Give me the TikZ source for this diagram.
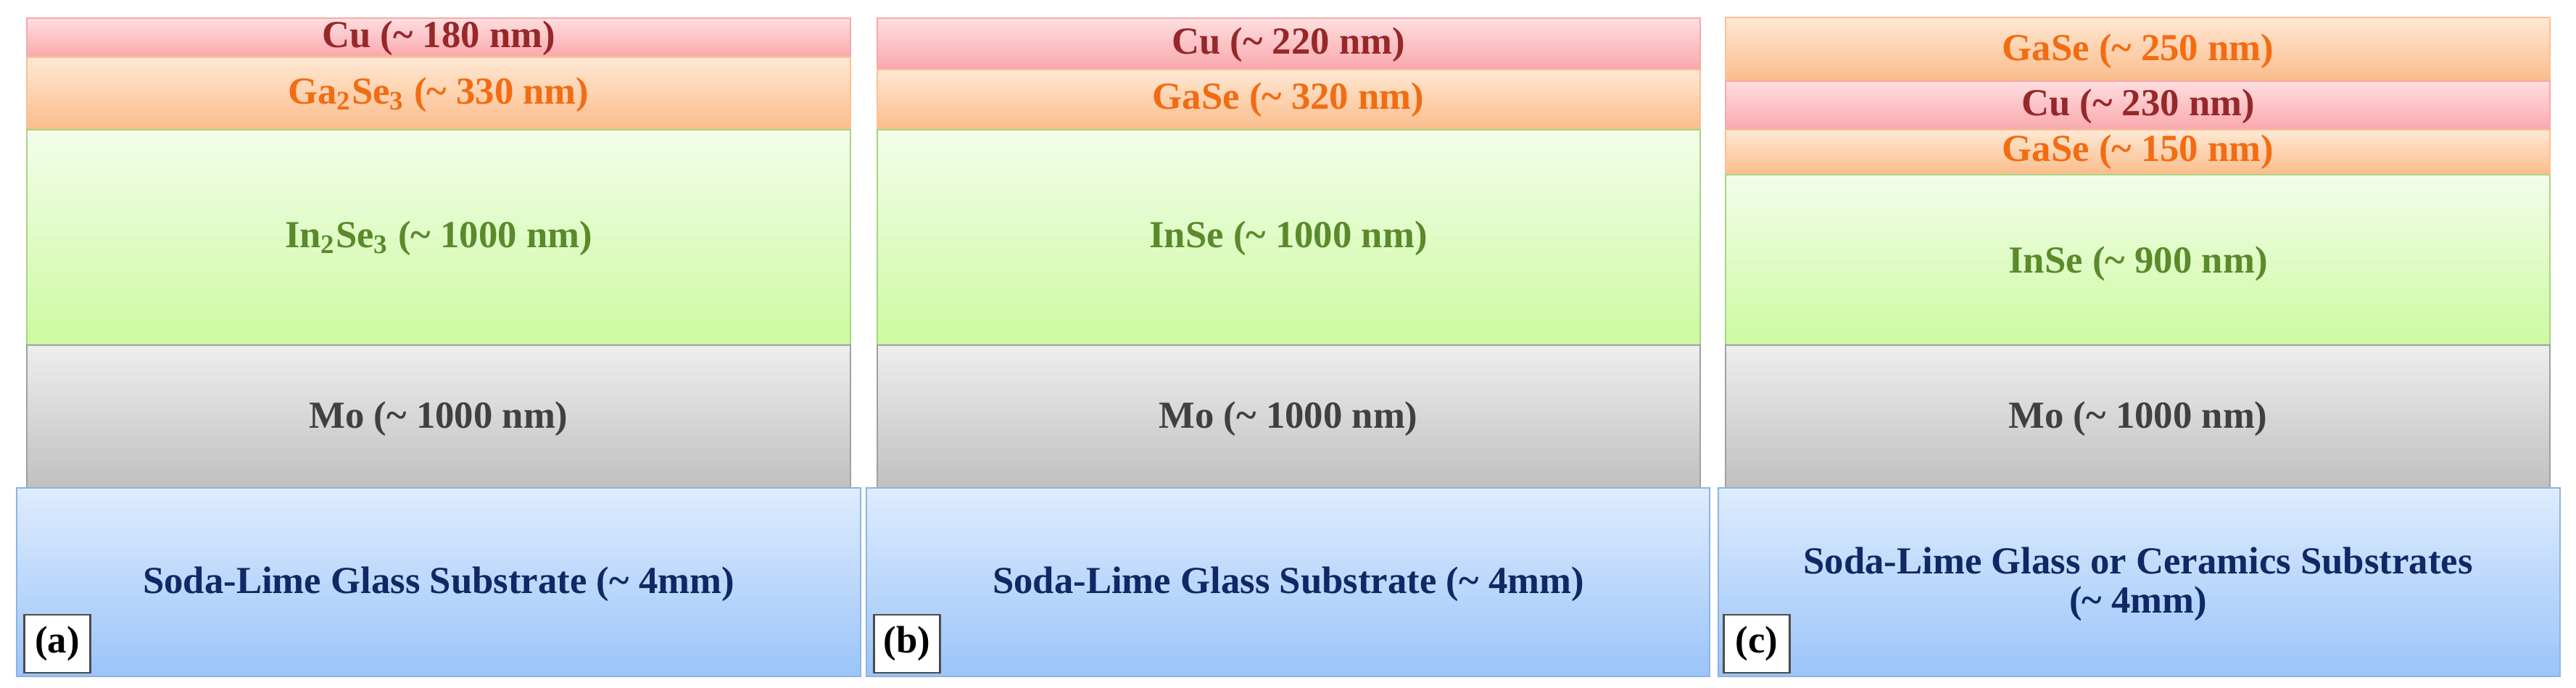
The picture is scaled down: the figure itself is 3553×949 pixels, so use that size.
\documentclass[tikz,border=0pt]{standalone}
\usepackage{fontspec}
\setmainfont{Liberation Serif}
\definecolor{cuT}{RGB}{255,222,224}
\definecolor{cuB}{RGB}{249,168,172}
\definecolor{cuD}{RGB}{243,170,174}
\definecolor{gaT}{RGB}{255,232,212}
\definecolor{gaB}{RGB}{251,188,138}
\definecolor{gaD}{RGB}{250,192,148}
\definecolor{inT}{RGB}{243,253,235}
\definecolor{inB}{RGB}{204,250,160}
\definecolor{inD}{RGB}{168,212,130}
\definecolor{moT}{RGB}{238,238,238}
\definecolor{moB}{RGB}{192,192,192}
\definecolor{moD}{RGB}{160,160,160}
\definecolor{suT}{RGB}{222,236,253}
\definecolor{suB}{RGB}{155,196,250}
\definecolor{suD}{RGB}{140,180,228}
\definecolor{cuText}{RGB}{150,40,42}
\definecolor{gaText}{RGB}{242,108,18}
\definecolor{inText}{RGB}{90,138,42}
\definecolor{moText}{RGB}{64,64,64}
\definecolor{suText}{RGB}{16,40,100}
\tikzset{
  cuL/.style={top color=cuT, bottom color=cuB, draw=cuD, line width=0.6pt},
  gaL/.style={top color=gaT, bottom color=gaB, draw=gaD, line width=0.6pt},
  inL/.style={top color=inT, bottom color=inB, draw=inD, line width=0.6pt},
  moL/.style={top color=moT, bottom color=moB, draw=moD, line width=0.6pt},
  suL/.style={top color=suT, bottom color=suB, draw=suD, line width=0.6pt},
  txt/.style={font=\fontsize{15}{15.2}\selectfont\bfseries, inner sep=0pt, align=center},
  cuX/.style={txt, text=cuText},
  gaX/.style={txt, text=gaText},
  inX/.style={txt, text=inText},
  moX/.style={txt, text=moText},
  suX/.style={txt, text=suText},
  tagbox/.style={draw=black!70, line width=0.7pt, fill=white, minimum width=0.91cm,
     minimum height=0.8cm, inner sep=0pt, font=\fontsize{15}{15}\selectfont\bfseries}
}
\newcommand{\tld}{\textasciitilde}
\begin{document}
\begin{tikzpicture}[x=0.01cm,y=-0.01cm]
\useasboundingbox (0,0) rectangle (3553,949);
% ---------- panel (a)
\path[cuL] (37,25) rectangle (1173,79);
\path[gaL] (37,79) rectangle (1173,179);
\path[inL] (37,179) rectangle (1173,476);
\path[moL] (37,476) rectangle (1173,673);
\path[suL] (23,673) rectangle (1187,933);
\node[cuX] (a-cu) at (605,53) {Cu (\tld{} 180 nm)};
\node[gaX] (a-ga) at (605,131) {Ga\textsubscript{2}Se\textsubscript{3} (\tld{} 330 nm)};
\node[inX] (a-in) at (605,329) {In\textsubscript{2}Se\textsubscript{3} (\tld{} 1000 nm)};
\node[moX] (a-mo) at (605,578) {Mo (\tld{} 1000 nm)};
\node[suX] (a-su) at (605,806) {Soda-Lime Glass Substrate (\tld{} 4mm)};
\node[tagbox] (a-tag) at (79,888) {(a)};
% ---------- panel (b)
\path[cuL] (1210,25) rectangle (2345,96);
\path[gaL] (1210,96) rectangle (2345,179);
\path[inL] (1210,179) rectangle (2345,476);
\path[moL] (1210,476) rectangle (2345,673);
\path[suL] (1195,673) rectangle (2358,933);
\node[cuX] (b-cu) at (1777,62) {Cu (\tld{} 220 nm)};
\node[gaX] (b-ga) at (1777,138) {GaSe (\tld{} 320 nm)};
\node[inX] (b-in) at (1777,329) {InSe (\tld{} 1000 nm)};
\node[moX] (b-mo) at (1777,578) {Mo (\tld{} 1000 nm)};
\node[suX] (b-su) at (1777,806) {Soda-Lime Glass Substrate (\tld{} 4mm)};
\node[tagbox] (b-tag) at (1251,888) {(b)};
% ---------- panel (c)
\path[gaL] (2380,24) rectangle (3517,112);
\path[cuL] (2380,112) rectangle (3517,179);
\path[gaL] (2380,179) rectangle (3517,241);
\path[inL] (2380,241) rectangle (3517,476);
\path[moL] (2380,476) rectangle (3517,673);
\path[suL] (2370,673) rectangle (3531,933);
\node[gaX] (c-ga1) at (2949,71) {GaSe (\tld{} 250 nm)};
\node[cuX] (c-cu) at (2949,147) {Cu (\tld{} 230 nm)};
\node[gaX] (c-ga2) at (2949,210) {GaSe (\tld{} 150 nm)};
\node[inX] (c-in) at (2949,364) {InSe (\tld{} 900 nm)};
\node[moX] (c-mo) at (2949,578) {Mo (\tld{} 1000 nm)};
\node[suX] (c-su) at (2949,806) {Soda-Lime Glass or Ceramics Substrates\\(\tld{} 4mm)};
\node[tagbox] (c-tag) at (2423,888) {(c)};
\end{tikzpicture}
\end{document}
